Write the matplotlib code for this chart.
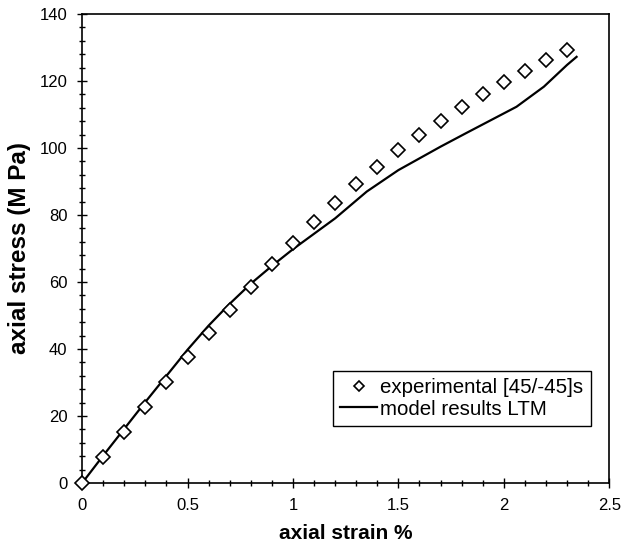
import matplotlib
matplotlib.use('Agg')
import matplotlib.pyplot as plt
import matplotlib.ticker as ticker

plt.rcParams['font.family'] = ['Liberation Sans', 'DejaVu Sans']

# experimental points [45/-45]s
exp_strain = [0.0, 0.1, 0.2, 0.3, 0.4, 0.5, 0.6, 0.7, 0.8, 0.9, 1.0, 1.1,
              1.2, 1.3, 1.4, 1.5, 1.6, 1.7, 1.8, 1.9, 2.0, 2.1, 2.2, 2.3]
exp_stress = [0.0, 7.8, 15.3, 22.8, 30.2, 37.6, 44.8, 51.6, 58.6, 65.3, 71.5, 77.8,
              83.5, 89.2, 94.3, 99.3, 104.0, 108.2, 112.2, 116.0, 119.7, 123.1, 126.2, 129.3]

# model results LTM
mod_strain = [0.0, 0.1, 0.2, 0.3, 0.4, 0.5, 0.6, 0.7, 0.8, 0.9, 1.0, 1.2,
              1.35, 1.5, 1.7, 1.82, 2.06, 2.19, 2.3, 2.345]
mod_stress = [0.0, 8.2, 16.2, 24.2, 32.0, 39.8, 47.0, 53.5, 59.5, 64.8, 69.8, 79.0,
              87.0, 93.4, 100.4, 104.4, 112.3, 118.3, 124.8, 127.2]

fig = plt.figure(figsize=(6.32, 5.48), dpi=100)
ax = fig.add_axes([0.130, 0.1186, 0.834, 0.8559])

ax.plot(exp_strain, exp_stress, linestyle='none', marker='D', markersize=7,
        markerfacecolor='white', markeredgecolor='black', markeredgewidth=1.2,
        label='experimental [45/-45]s', zorder=3, clip_on=False)
ax.plot(mod_strain, mod_stress, color='black', linewidth=1.6,
        label='model results LTM', zorder=2)

ax.set_xlim(0, 2.5)
ax.set_ylim(0, 140)
ax.xaxis.set_major_locator(ticker.MultipleLocator(0.5))
ax.xaxis.set_minor_locator(ticker.MultipleLocator(0.1))
ax.yaxis.set_major_locator(ticker.MultipleLocator(20))
ax.yaxis.set_minor_locator(ticker.MultipleLocator(4))

def fmt(x, pos):
    return f"{x:g}"

ax.xaxis.set_major_formatter(ticker.FuncFormatter(fmt))
ax.tick_params(axis='both', which='major', direction='inout', length=7, width=1,
               labelsize=12, pad=7)
ax.tick_params(axis='both', which='minor', direction='inout', length=4, width=1)
for s in ax.spines.values():
    s.set_linewidth(1.2)

ax.set_xlabel('axial strain %', fontsize=15, fontweight='bold', labelpad=8)
ax.set_ylabel('axial stress (M Pa)', fontsize=17.5, fontweight='bold', labelpad=6)

leg = ax.legend(loc='upper left', bbox_to_anchor=(0.476, 0.239), fontsize=14.8,
                frameon=True, fancybox=False, edgecolor='black', framealpha=1,
                borderpad=0.35, handlelength=1.8, handletextpad=0.15,
                labelspacing=0.12, markerscale=0.7, borderaxespad=0)
leg.get_frame().set_linewidth(1.0)

fig.savefig('out.png', dpi=100)
